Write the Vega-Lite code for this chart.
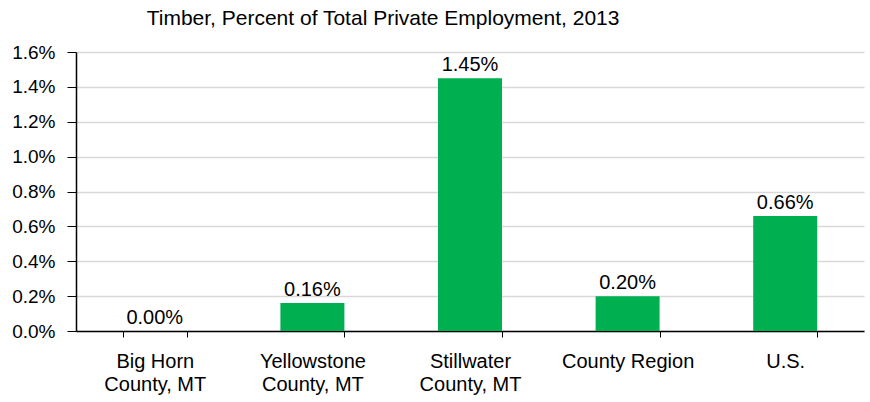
{
  "$schema": "https://vega.github.io/schema/vega-lite/v6.json",
  "autosize": "none",
  "width": 788,
  "height": 279,
  "padding": {"left": 76, "top": 52, "right": 6, "bottom": 71},
  "background": "white",
  "config": {
    "font": "Liberation Sans",
    "view": {"stroke": null}
  },
  "title": {
    "text": "Timber, Percent of Total Private Employment, 2013",
    "anchor": "start",
    "dx": 135,
    "offset": -3,
    "baseline": "alphabetic",
    "fontSize": 21,
    "fontWeight": "normal",
    "color": "black",
    "font": "Liberation Sans"
  },
  "data": {
    "values": [
      {"area": "Big Horn|County, MT", "value": 0.0, "label": "0.00%"},
      {"area": "Yellowstone|County, MT", "value": 0.0016, "label": "0.16%"},
      {"area": "Stillwater|County, MT", "value": 0.0145, "label": "1.45%"},
      {"area": "County Region", "value": 0.0020, "label": "0.20%"},
      {"area": "U.S.", "value": 0.0066, "label": "0.66%"}
    ]
  },
  "encoding": {
    "x": {
      "field": "area",
      "type": "nominal",
      "sort": null,
      "scale": {"paddingInner": 0.594, "paddingOuter": 0.297},
      "axis": {
        "title": null,
        "labelAngle": 0,
        "labelExpr": "split(datum.label, '|')",
        "labelFontSize": 20,
        "labelColor": "black",
        "labelLineHeight": 23,
        "labelPadding": 14,
        "labelBaseline": "top",
        "tickBand": "extent",
        "tickSize": 6,
        "tickColor": "black",
        "domainColor": "black",
        "domainWidth": 1.5,
        "grid": false
      }
    },
    "y": {
      "field": "value",
      "type": "quantitative",
      "scale": {"domain": [0, 0.016], "nice": false},
      "axis": {
        "title": null,
        "format": ".1%",
        "values": [0, 0.002, 0.004, 0.006, 0.008, 0.01, 0.012, 0.014, 0.016],
        "labelFontSize": 19,
        "labelColor": "black",
        "labelPadding": 12,
        "tickSize": 9,
        "tickColor": "black",
        "domainColor": "black",
        "domainWidth": 1.5,
        "gridColor": "#d9d9d9",
        "gridWidth": 1.5
      }
    }
  },
  "layer": [
    {"mark": {"type": "bar", "color": "#00b050"}},
    {
      "mark": {"type": "text", "baseline": "alphabetic", "dy": -7, "fontSize": 20, "color": "black"},
      "encoding": {"text": {"field": "label"}}
    }
  ]
}
